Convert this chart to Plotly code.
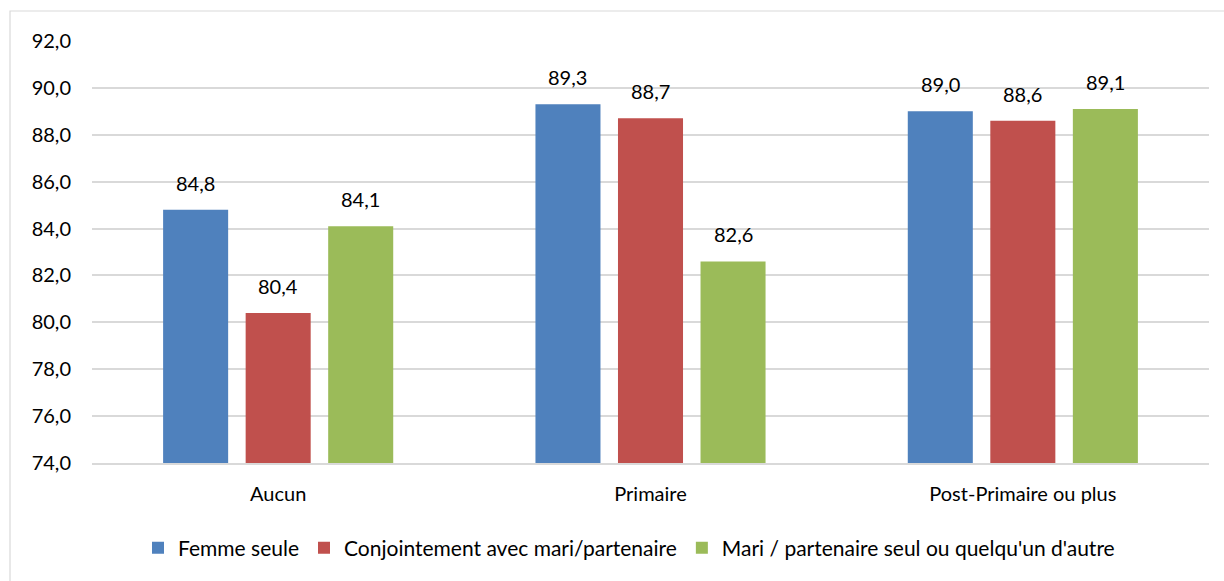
import plotly.graph_objects as go

categories = ["Aucun", "Primaire", "Post-Primaire ou plus"]
series_names = [
    "Femme seule",
    "Conjointement avec mari/partenaire",
    "Mari / partenaire seul ou quelqu'un d'autre",
]
femme_seule = [84.8, 89.3, 89.0]
conjointement = [80.4, 88.7, 88.6]
mari_autre = [84.1, 82.6, 89.1]
colors = ["#4f81bd", "#c0504d", "#9bbb59"]
y_ticks = [74, 76, 78, 80, 82, 84, 86, 88, 90, 92]

FONT = "Lato, 'Open Sans', sans-serif"
FS = 20
W, H = 1224, 581
M_L, M_R, M_T, M_B = 92, 15, 41, 118
plot_w = W - M_L - M_R
plot_h = H - M_T - M_B
BARGAP, GROUPGAP = 0.335, 0.212

fig = go.Figure()
all_series = [femme_seule, conjointement, mari_autre]
for name, vals, col in zip(series_names, all_series, colors):
    fig.add_trace(go.Bar(
        x=categories, y=[v - 74 for v in vals], base=74, name=name,
        marker=dict(color=col, line=dict(width=0)),
        hoverinfo="skip",
    ))

# value labels above each bar
cat_w = plot_w / len(categories)
slot = cat_w * (1 - BARGAP) / 3
for i, vals in enumerate(all_series):
    for c, v in zip(categories, vals):
        fig.add_annotation(
            x=c, y=v, xref="x", yref="y", text=f"{v:.1f}".replace(".", ","),
            showarrow=False, yanchor="bottom", xshift=(i - 1) * slot, yshift=13,
            font=dict(family=FONT, size=FS, color="#000000"),
        )

# outer chart border
fig.add_shape(
    type="rect", xref="paper", yref="paper",
    x0=(10 - M_L) / plot_w, x1=(W + 20 - M_L) / plot_w,
    y0=(M_T + plot_h - (H + 20)) / plot_h, y1=(M_T + plot_h - 11) / plot_h,
    line=dict(color="#d9d9d9", width=1.2), fillcolor="rgba(0,0,0,0)", layer="below",
)

fig.update_layout(
    width=W, height=H,
    margin=dict(l=M_L, r=M_R, t=M_T, b=M_B),
    paper_bgcolor="white", plot_bgcolor="white",
    barmode="group", bargap=BARGAP, bargroupgap=GROUPGAP,
    separators=", ",
    font=dict(family=FONT, size=FS, color="#000000"),
    showlegend=True,
    legend=dict(
        orientation="h", x=(629 - M_L) / plot_w, xanchor="center",
        y=(M_T + plot_h - 548) / plot_h,
        yanchor="middle", font=dict(family=FONT, size=21), itemwidth=30,
        traceorder="normal",
    ),
    xaxis=dict(
        showgrid=False, showline=True, linecolor="#d9d9d9", linewidth=1.5,
        ticks="", ticklabelstandoff=12, tickfont=dict(size=FS),
    ),
    yaxis=dict(
        range=[74, 92], tickvals=y_ticks, tickformat=".1f",
        showgrid=True, gridcolor="#d9d9d9", gridwidth=1.5,
        zeroline=False, showline=False, ticks="", ticklabelstandoff=20,
        tickfont=dict(size=FS),
    ),
)

fig.write_html("out.html")
